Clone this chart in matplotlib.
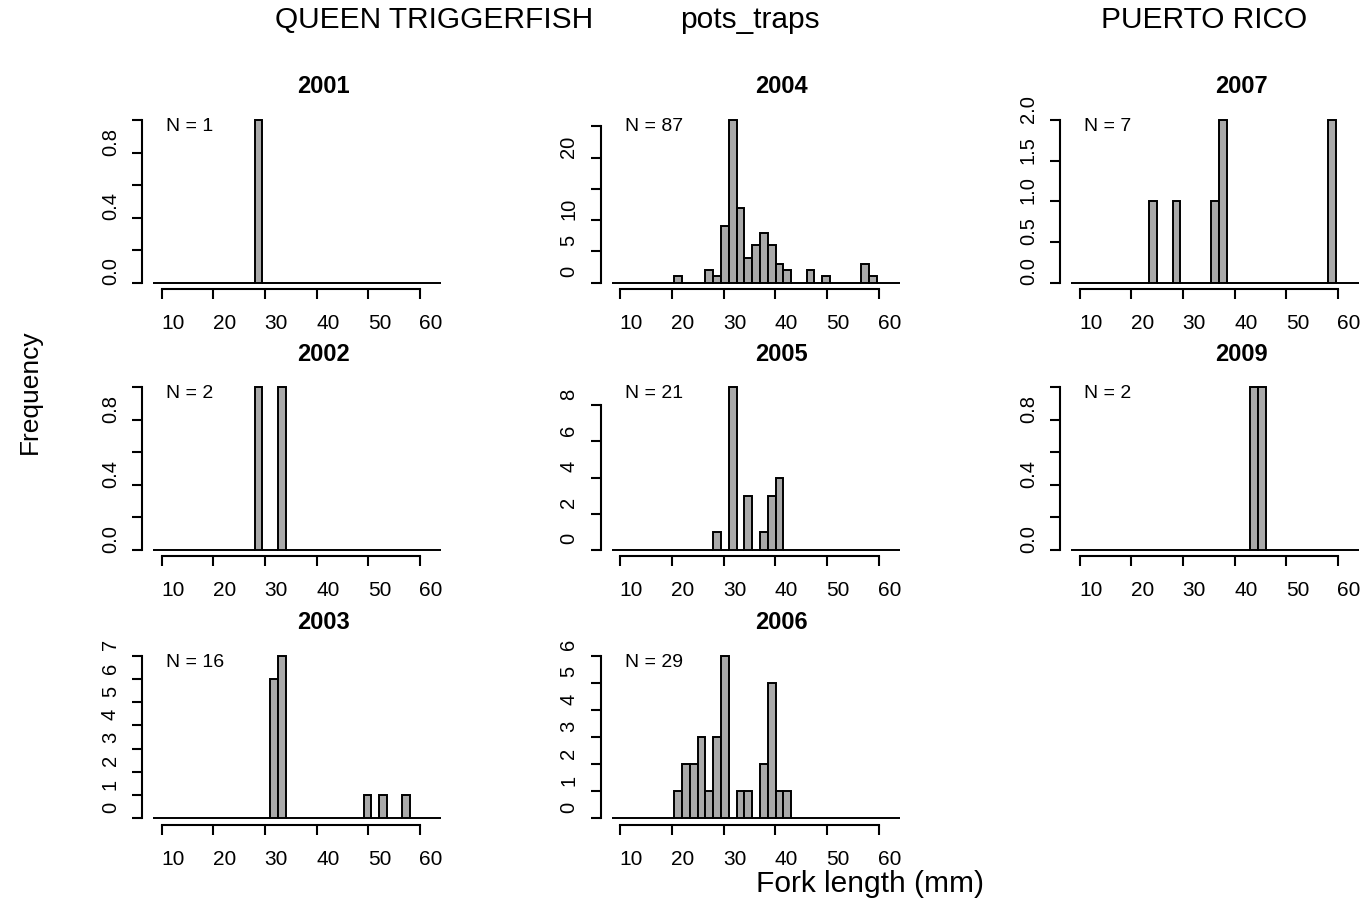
import numpy as np
import matplotlib
matplotlib.use('Agg')
import matplotlib.pyplot as plt
from matplotlib.transforms import ScaledTranslation

plt.rcParams['font.family'] = ['Liberation Sans', 'DejaVu Sans']

# length bins (lower edge of the first bin, width), 37 bins
BIN0 = 8.4
BINW = 1.506

years = ['2001', '2002', '2003', '2004', '2005', '2006', '2007', '2009']

c2001 = [0,0,0,0,0,0,0,0,0,0, 0,0,0,1,0,0,0,0,0,0, 0,0,0,0,0,0,0,0,0,0, 0,0,0,0,0,0,0]
c2002 = [0,0,0,0,0,0,0,0,0,0, 0,0,0,1,0,0,1,0,0,0, 0,0,0,0,0,0,0,0,0,0, 0,0,0,0,0,0,0]
c2003 = [0,0,0,0,0,0,0,0,0,0, 0,0,0,0,0,6,7,0,0,0, 0,0,0,0,0,0,0,1,0,1, 0,0,1,0,0,0,0]
c2004 = [0,0,0,0,0,0,0,0,1,0, 0,0,2,1,9,26,12,4,6,8, 6,3,2,0,0,2,0,1,0,0, 0,0,3,1,0,0,0]
c2005 = [0,0,0,0,0,0,0,0,0,0, 0,0,0,1,0,9,0,3,0,1, 3,4,0,0,0,0,0,0,0,0, 0,0,0,0,0,0,0]
c2006 = [0,0,0,0,0,0,0,0,1,2, 2,3,1,3,6,0,1,1,0,2, 5,1,1,0,0,0,0,0,0,0, 0,0,0,0,0,0,0]
c2007 = [0,0,0,0,0,0,0,0,0,0, 1,0,0,1,0,0,0,0,1,2, 0,0,0,0,0,0,0,0,0,0, 0,0,0,2,0,0,0]
c2009 = [0,0,0,0,0,0,0,0,0,0, 0,0,0,0,0,0,0,0,0,0, 0,0,0,1,1,0,0,0,0,0, 0,0,0,0,0,0,0]
counts = [c2001, c2002, c2003, c2004, c2005, c2006, c2007, c2009]

# y ticks and which of them carry a label
yt_01 = [0, 0.2, 0.4, 0.6, 0.8, 1.0]
yl_01 = ['0.0', '', '0.4', '', '0.8', '']
yticks = [yt_01, yt_01, [0,1,2,3,4,5,6,7], [0,5,10,15,20,25], [0,2,4,6,8],
          [0,1,2,3,4,5,6], [0, 0.5, 1.0, 1.5, 2.0], yt_01]
ylabels = [yl_01, yl_01, ['0','1','2','3','4','5','6','7'], ['0','5','10','','20',''],
           ['0','2','4','6','8'], ['0','1','2','3','4','5','6'],
           ['0.0','0.5','1.0','1.5','2.0'], yl_01]

xticks = [10, 20, 30, 40, 50, 60]

# panel grid (column, row) in the layout
cells = [(0,0), (0,1), (0,2), (1,0), (1,1), (1,2), (2,0), (2,1)]

W, H = 1362, 900
col_x = [142, 600.7, 1060]
row_y = [113.5, 380.8, 649.3]
aw, ah = 311, 175.5

fig01 = plt.figure(figsize=(13.62, 9.0), dpi=100)

edges = BIN0 + BINW*np.arange(37)

for i in range(len(years)):
  cc, rr = cells[i]
  axs = fig01.add_axes([col_x[cc]/W, 1-(row_y[rr]+ah)/H, aw/W, ah/H])
  cnt = np.array(counts[i])
  m = cnt.max()
  axs.bar(edges, cnt, width=BINW, align='edge', color='#a9a9a9',
          edgecolor='black', linewidth=1.4)
  axs.set_xlim(6.19, 6.19 + aw/5.167)
  axs.set_ylim(-0.04*m, 1.04*m)

  for sp in ['top', 'right']:
    axs.spines[sp].set_visible(False)
  axs.spines['left'].set_bounds(0, yticks[i][-1])
  axs.spines['bottom'].set_bounds(10, 60)
  axs.spines['left'].set_linewidth(1.5)
  axs.spines['bottom'].set_linewidth(1.5)

  axs.set_xticks(xticks)
  axs.set_xticklabels([str(v) for v in xticks], fontsize=15)
  axs.set_yticks(yticks[i])
  axs.set_yticklabels(ylabels[i], fontsize=14.5, rotation=90, va='center')
  axs.tick_params(axis='both', length=7, width=1.5, direction='out')
  axs.tick_params(axis='x', pad=11)
  axs.tick_params(axis='y', pad=9)

  # labels sit a little off their ticks
  for lab in axs.get_xticklabels():
    lab.set_transform(lab.get_transform() + ScaledTranslation(0.11, 0, fig01.dpi_scale_trans))
  for lab in axs.get_yticklabels():
    lab.set_transform(lab.get_transform() + ScaledTranslation(0, 0.11, fig01.dpi_scale_trans))

  axs.text(0.582, 1.152, years[i], transform=axs.transAxes, ha='center', va='center',
           fontsize=17, fontweight='bold')
  axs.text(0.077, 0.925, 'N = %d' % cnt.sum(), transform=axs.transAxes, ha='left',
           va='center', fontsize=14)

fig01.text(434/W, 1-20/H, 'QUEEN TRIGGERFISH', ha='center', va='center', fontsize=21.5)
fig01.text(750/W, 1-20/H, 'pots_traps', ha='center', va='center', fontsize=21.5)
fig01.text(1204/W, 1-20/H, 'PUERTO RICO', ha='center', va='center', fontsize=21.5)
fig01.text(30/W, 1-392/H, 'Frequency', ha='center', va='center', rotation=90, fontsize=19)
fig01.text(870/W, 1-884/H, 'Fork length (mm)', ha='center', va='center', fontsize=21.5)

plt.savefig('out.png', dpi=100)
plt.close()
